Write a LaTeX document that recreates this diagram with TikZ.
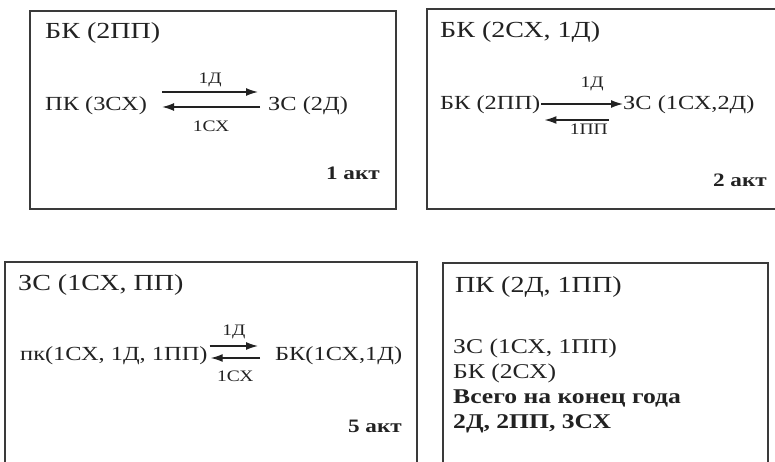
\documentclass[tikz,border=0pt]{standalone}
\usepackage{fontspec}
\setmainfont{Liberation Serif}[FakeStretch=1.22]
\usetikzlibrary{arrows.meta}
\definecolor{ink}{HTML}{222222}
\definecolor{frame}{HTML}{3A3A3A}
\begin{document}
\begin{tikzpicture}[x=1pt,y=-1pt,
	box/.style={draw=frame,line width=1.5pt},
	ttl/.style={inner sep=0pt,text=ink,anchor=base west,font=\fontsize{23}{27}\selectfont},
	txt/.style={inner sep=0pt,text=ink,anchor=base west,font=\fontsize{20}{24}\selectfont},
	lbl/.style={inner sep=0pt,text=ink,font=\fontsize{16}{19}\selectfont},
	akt/.style={inner sep=0pt,text=ink,font=\fontsize{19}{22}\selectfont\bfseries,anchor=base east},
	arr/.style={draw=ink,line width=1.4pt,-{Latex[length=12pt,width=8pt]}}]
	\useasboundingbox (0,0) rectangle (775,462);
	% frames
	\draw[box] (30,11) rectangle (396,209);
	\draw[box] (775,9) -- (427,9) -- (427,209) -- (775,209);
	\draw[box] (5,462) -- (5,262) -- (417,262) -- (417,462);
	\draw[box] (443,462) -- (443,263) -- (768,263) -- (768,462);
	% 1 akt
	\node[ttl] (t1) at (45,39) {БК (2ПП)};
	\node[txt] (pk1) at (45,111) {ПК (3СХ)};
	\node[txt] (zs1) at (268,111) {ЗС (2Д)};
	\draw[arr] ([xshift=15pt,yshift=19pt]pk1.base east) -- node[lbl,above=4pt] {1Д} ([xshift=-10pt,yshift=19pt]zs1.base west);
	\draw[arr] ([xshift=-8pt,yshift=4pt]zs1.base west) -- node[lbl,below=13pt] {1СХ} ([xshift=15pt,yshift=4pt]pk1.base east);
	\node[akt] (a1) at (380,180) {1 акт};
	% 2 akt
	\node[ttl] (t2) at (440,38) {БК (2СХ, 1Д)};
	\node[txt] (bk2) at (440,110) {БК (2ПП)};
	\node[txt] (zs2) at (623,110) {ЗС (1СХ,2Д)};
	\draw[arr] ([xshift=1pt,yshift=6pt]bk2.base east) -- node[lbl,above=12pt,xshift=10pt] {1Д} ([yshift=6pt]zs2.base west);
	\draw[arr] ([xshift=-14pt,yshift=-10pt]zs2.base west) -- node[lbl,below=3pt,xshift=12pt] {1ПП} ([xshift=4pt,yshift=-10pt]bk2.base east);
	\node[akt] (a2) at (767,187) {2 акт};
	% 5 akt
	\node[ttl] (t5) at (18,290) {ЗС (1СХ, ПП)};
	\node[txt] (pk5) at (20,360) {пк(1СХ, 1Д, 1ПП)};
	\node[txt] (bk5) at (275,360) {БК(1СХ,1Д)};
	\draw[arr] ([xshift=2pt,yshift=14pt]pk5.base east) -- node[lbl,above=6pt] {1Д} ([xshift=-17pt,yshift=14pt]bk5.base west);
	\draw[arr] ([xshift=-15pt,yshift=2pt]bk5.base west) -- node[lbl,below=12pt] {1СХ} ([xshift=3pt,yshift=2pt]pk5.base east);
	\node[akt] (a5) at (402,432) {5 акт};
	% itog
	\node[ttl] (t6) at (455,292) {ПК (2Д, 1ПП)};
	\node[txt,font=\fontsize{21}{25}\selectfont] (zs6) at (453,353) {ЗС (1СХ, 1ПП)};
	\node[txt,font=\fontsize{21}{25}\selectfont] (bk6) at (453,378) {БК (2СХ)};
	\node[txt,font=\fontsize{21}{25}\selectfont\bfseries] (vs6) at (453,403) {Всего на конец года};
	\node[txt,font=\fontsize{21}{25}\selectfont\bfseries] (it6) at (453,428) {2Д, 2ПП, 3СХ};
\end{tikzpicture}
\end{document}
